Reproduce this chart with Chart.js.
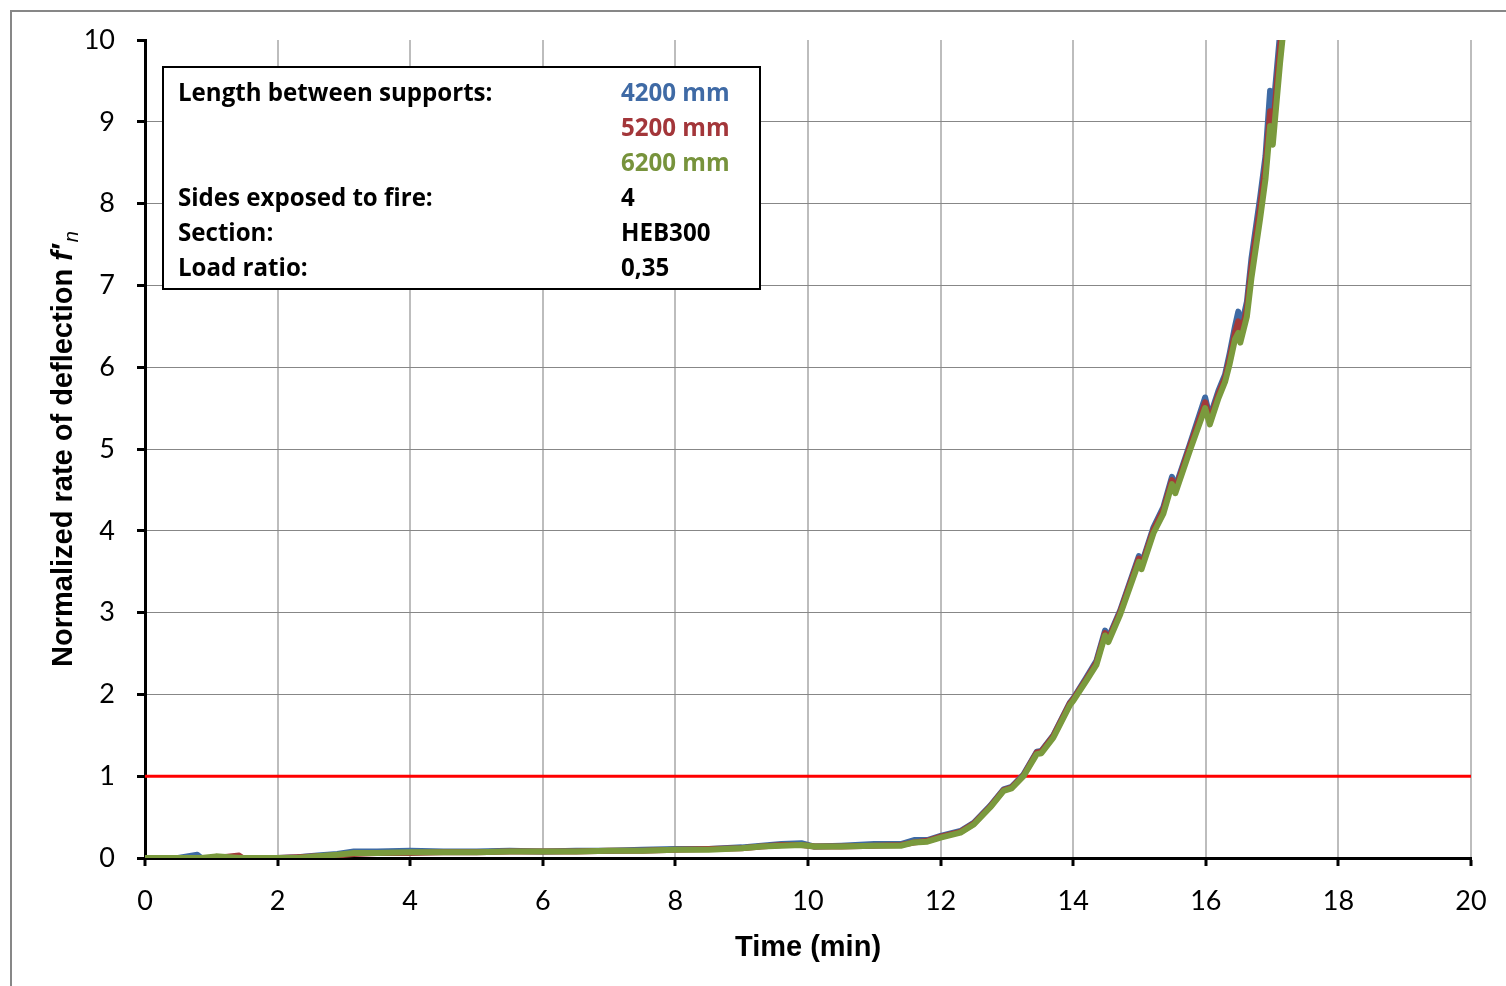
<!DOCTYPE html>
<html>
<head>
<meta charset="utf-8">
<script src="https://cdn.jsdelivr.net/npm/chart.js@4.4.0/dist/chart.umd.min.js"></script>
<style>
  html, body { margin: 0; padding: 0; background: #fff; }
  canvas { display: block; }
</style>
</head>
<body>
<canvas id="chart" width="1506" height="986"></canvas>
<script>
// time (min)
const time = [
  0, 0.5, 0.79, 0.85, 1.07, 1.42, 1.47, 2.0, 2.3, 2.6,
  2.9, 3.15, 3.5, 4.0, 4.5, 5.0, 5.5, 6.0, 6.5, 7.0,
  7.5, 8.0, 8.5, 9.0, 9.3, 9.6, 9.9, 10.1, 10.5, 11.0,
  11.4, 11.6, 11.8, 12.0, 12.3, 12.5, 12.75, 12.95, 13.07, 13.25,
  13.45, 13.52, 13.7, 13.95, 14.0, 14.2, 14.35, 14.48, 14.53, 14.71,
  14.99, 15.03, 15.21, 15.36, 15.49, 15.54, 15.76, 15.99, 16.06, 16.19,
  16.29, 16.36, 16.44, 16.49, 16.52, 16.62, 16.69, 16.82, 16.9, 16.97,
  17.01, 17.12, 17.2
];
// normalized rate of deflection, per span length
const defl4200 = [
  0, 0, 0.04, 0, 0, 0, 0, 0, 0.01, 0.03,
  0.05, 0.08, 0.08, 0.09, 0.08, 0.08, 0.09, 0.08, 0.09, 0.09,
  0.10, 0.11, 0.11, 0.13, 0.15, 0.17, 0.18, 0.14, 0.15, 0.17,
  0.17, 0.22, 0.22, 0.27, 0.33, 0.43, 0.64, 0.84, 0.87, 1.02,
  1.30, 1.31, 1.50, 1.90, 1.95, 2.21, 2.41, 2.78, 2.69, 3.03,
  3.69, 3.59, 4.04, 4.29, 4.66, 4.53, 5.06, 5.63, 5.39, 5.71,
  5.91, 6.17, 6.50, 6.68, 6.44, 6.80, 7.34, 8.08, 8.58, 9.38,
  9.08, 10.08, 10.65
];
const defl5200 = [
  0, 0, 0, 0, 0, 0.03, 0, 0, 0.01, 0.02,
  0.03, 0.05, 0.06, 0.06, 0.07, 0.07, 0.08, 0.08, 0.08, 0.09,
  0.09, 0.10, 0.11, 0.12, 0.14, 0.16, 0.16, 0.14, 0.14, 0.15,
  0.16, 0.19, 0.21, 0.26, 0.32, 0.42, 0.63, 0.83, 0.86, 1.01,
  1.29, 1.30, 1.49, 1.89, 1.94, 2.19, 2.39, 2.75, 2.67, 3.01,
  3.66, 3.57, 4.01, 4.26, 4.62, 4.50, 5.03, 5.57, 5.35, 5.67,
  5.87, 6.11, 6.42, 6.56, 6.36, 6.72, 7.24, 7.97, 8.46, 9.13,
  8.90, 9.92, 10.5
];
const defl6200 = [
  0, 0, 0, 0, 0.02, 0, 0, 0, 0, 0.02,
  0.04, 0.06, 0.06, 0.07, 0.07, 0.07, 0.08, 0.08, 0.08, 0.09,
  0.09, 0.10, 0.10, 0.12, 0.14, 0.15, 0.16, 0.14, 0.14, 0.15,
  0.15, 0.19, 0.20, 0.25, 0.31, 0.41, 0.62, 0.82, 0.85, 1.00,
  1.27, 1.28, 1.47, 1.87, 1.92, 2.17, 2.36, 2.72, 2.64, 2.98,
  3.62, 3.53, 3.97, 4.21, 4.57, 4.46, 4.98, 5.50, 5.30, 5.62,
  5.82, 6.04, 6.34, 6.42, 6.30, 6.62, 7.10, 7.82, 8.30, 8.95,
  8.72, 9.72, 10.35
];
// limit line f'n = 1
const limitTime = [0, 20];
const limitValue = [1, 1];

const infoLabels = ["Length between supports:", "", "", "Sides exposed to fire:", "Section:", "Load ratio:"];
const infoValues = ["4200 mm", "5200 mm", "6200 mm", "4", "HEB300", "0,35"];

const BLUE = "#3E6AA4", RED = "#A33A39", GREEN = "#7A9A3D";
const infoColors = ["#3F6AA5", "#A3363A", "#77933C", "#000", "#000", "#000"];

function pts(xs, ys) { return xs.map((x, i) => ({ x: x, y: ys[i] })); }

const frame = {
  id: "frame",
  beforeDraw(c) {
    const g = c.ctx;
    g.save();
    g.fillStyle = "#fff";
    g.fillRect(0, 0, c.width, c.height);
    g.strokeStyle = "#878787";
    g.lineWidth = 2;
    g.strokeRect(11, 11, 1600, 1600);
    g.restore();
  },
  afterDraw(c) {
    const g = c.ctx;
    g.save();
    // info box
    g.fillStyle = "#fff";
    g.fillRect(163, 67, 597, 222);
    g.strokeStyle = "#000";
    g.lineWidth = 2;
    g.strokeRect(163, 67, 597, 222);
    // fit the font so the long label spans about as wide as in the original
    let fs = 24;
    g.font = "bold " + fs + "px 'Open Sans'";
    fs = fs * 314 / g.measureText(infoLabels[0]).width;
    g.font = "bold " + fs.toFixed(1) + "px 'Open Sans'";
    g.textBaseline = "middle";
    g.textAlign = "left";
    infoLabels.forEach((t, i) => {
      const y = 94 + i * 35;
      g.fillStyle = "#000";
      g.fillText(t, 178, y);
      g.fillStyle = infoColors[i];
      g.fillText(infoValues[i], 621, y);
    });

    // x title
    g.fillStyle = "#000";
    g.font = "bold 29px 'Liberation Sans'";
    g.textAlign = "center";
    g.textBaseline = "alphabetic";
    g.fillText("Time (min)", 808, 956);

    // y title with f'n
    const a = c.chartArea;
    const main = "Normalized rate of deflection ";
    g.font = "bold 29px 'Liberation Sans'";
    const w1 = g.measureText(main).width;
    g.font = "italic bold 29px 'Liberation Sans'";
    const w2 = g.measureText("f\u2032").width;
    g.font = "italic 20px 'Liberation Sans'";
    const w3 = g.measureText("n").width;
    const total = w1 + w2 + w3 + 2;
    const cy = (a.top + a.bottom) / 2;
    g.translate(72, cy + total / 2);
    g.rotate(-Math.PI / 2);
    g.textAlign = "left";
    g.font = "bold 29px 'Liberation Sans'";
    g.fillText(main, 0, 0);
    g.font = "italic bold 29px 'Liberation Sans'";
    g.fillText("f\u2032", w1, 0);
    g.font = "italic 20px 'Liberation Sans'";
    g.fillText("n", w1 + w2 + 2, 6);
    g.restore();
  }
};

const lineStyle = { pointRadius: 0, borderWidth: 6, tension: 0, borderJoinStyle: "round", borderCapStyle: "round", fill: false };

new Chart(document.getElementById("chart"), {
  type: "line",
  data: {
    datasets: [
      Object.assign({ label: "6200 mm", data: pts(time, defl6200), borderColor: GREEN, order: 0 }, lineStyle),
      Object.assign({ label: "5200 mm", data: pts(time, defl5200), borderColor: RED, order: 1 }, lineStyle),
      Object.assign({ label: "4200 mm", data: pts(time, defl4200), borderColor: BLUE, order: 2 }, lineStyle),
      { label: "limit", data: pts(limitTime, limitValue), borderColor: "#FF0000", borderWidth: 3, pointRadius: 0, order: 3 }
    ]
  },
  options: {
    responsive: false,
    animation: false,
    layout: { padding: { left: 0, top: 40, right: 35, bottom: 0 } },
    plugins: { legend: { display: false }, tooltip: { enabled: false } },
    scales: {
      x: {
        type: "linear", min: 0, max: 20,
        ticks: { stepSize: 2, color: "#000", font: { family: "Lato", size: 27 }, padding: 19, maxRotation: 0 },
        grid: { color: "#BDBDBD", lineWidth: 2, tickColor: "#000", tickWidth: 3, tickLength: 8 },
        border: { color: "#000", width: 3 },
        afterFit(s) { s.height = 128; }
      },
      y: {
        min: 0, max: 10,
        ticks: { stepSize: 1, color: "#000", font: { family: "Lato", size: 27 }, padding: 22 },
        grid: {
          color: (ctx) => (ctx.tick && ctx.tick.value === 10 ? "rgba(0,0,0,0)" : "#878787"),
          lineWidth: 1, tickColor: "#000", tickWidth: 3, tickLength: 8
        },
        border: { color: "#000", width: 3 },
        afterFit(s) { s.width = 145; }
      }
    }
  },
  plugins: [frame]
});
</script>
</body>
</html>
